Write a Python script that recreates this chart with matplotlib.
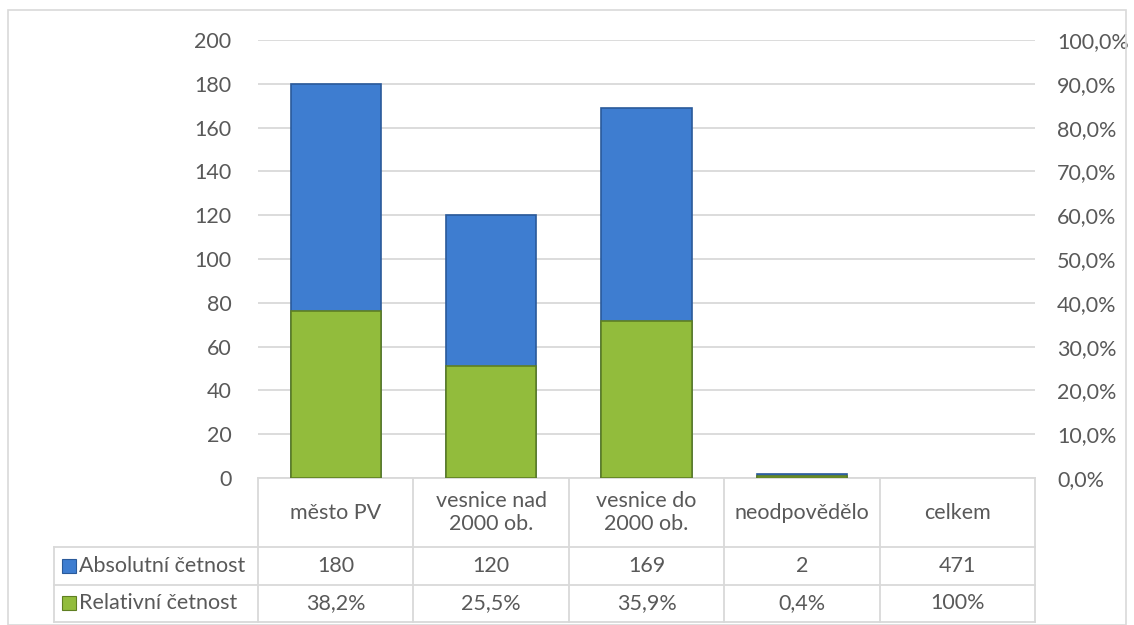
import matplotlib.pyplot as plt
from matplotlib.patches import Rectangle

# Data
categories = ["město PV", "vesnice nad\n2000 ob.", "vesnice do\n2000 ob.", "neodpovědělo", "celkem"]
absolute = [180, 120, 169, 2, 471]
relative = [38.2, 25.5, 35.9, 0.4, 100.0]
relative_labels = ["38,2%", "25,5%", "35,9%", "0,4%", "100%"]
series_names = ["Absolutní četnost", "Relativní četnost"]

# bars are drawn only for the real categories, not the total
n_bars = 4

plt.rcParams["font.family"] = ["Lato", "DejaVu Sans"]
text_col = "#595959"
grid_col = "#D9D9D9"
blue = "#3E7DD0"
blue_edge = "#2A5A9A"
green = "#92BC3C"
green_edge = "#5F7F22"
fs = 15.5

fig = plt.figure(figsize=(11.34, 6.25), dpi=100)

# outer chart frame
fig.patches.append(Rectangle((8 / 1134, 0), 1 - 16 / 1134, 1 - 10 / 625, transform=fig.transFigure,
                             fill=False, edgecolor=grid_col, linewidth=1.2))

ax = fig.add_axes([258 / 1134, (625 - 478) / 625, 777 / 1134, 438 / 625])
ax2 = ax.twinx()

x = list(range(len(categories)))
ax.bar(x[:n_bars], absolute[:n_bars], width=0.58, color=blue, edgecolor=blue_edge, linewidth=1.2, zorder=3)
ax2.bar(x[:n_bars], relative[:n_bars], width=0.58, color=green, edgecolor=green_edge, linewidth=1.2, zorder=3)

ax.set_xlim(-0.5, len(categories) - 0.5)
ax.set_ylim(0, 200)
ax.set_yticks(range(0, 201, 20))
ax2.set_ylim(0, 100)
ax2.set_yticks(range(0, 101, 10))
ax2.set_yticklabels([f"{v},0%" for v in range(0, 101, 10)])

ax.grid(axis="y", color=grid_col, linewidth=1.3, zorder=0)
ax.set_axisbelow(True)
for a in (ax, ax2):
    for s in a.spines.values():
        s.set_visible(False)
    a.tick_params(length=0, labelsize=fs, colors=text_col)
ax.tick_params(axis="y", pad=19)
ax2.tick_params(axis="y", pad=16)
ax.set_xticks([])

# data table under the plot
tr = ax.get_xaxis_transform()
rows = [0, -0.158, -0.244, -0.329]
left = -1.81
lkw = dict(color=grid_col, linewidth=1.3, transform=tr, clip_on=False)
ax.plot([-0.5, len(categories) - 0.5], [rows[0], rows[0]], **lkw)
for r in rows[1:]:
    ax.plot([left, len(categories) - 0.5], [r, r], **lkw)
for i in range(len(categories) + 1):
    ax.plot([i - 0.5, i - 0.5], [rows[0], rows[3]], **lkw)
ax.plot([left, left], [rows[1], rows[3]], **lkw)

for i, c in enumerate(categories):
    ax.text(i, (rows[0] + rows[1]) / 2, c, transform=tr, ha="center", va="center",
            fontsize=fs, color=text_col, linespacing=1.2)
    ax.text(i, (rows[1] + rows[2]) / 2, str(absolute[i]), transform=tr, ha="center", va="center",
            fontsize=fs, color=text_col)
    ax.text(i, (rows[2] + rows[3]) / 2, relative_labels[i], transform=tr, ha="center", va="center",
            fontsize=fs, color=text_col)

for k, (name, fc, ec) in enumerate(zip(series_names, [blue, green], [blue_edge, green_edge])):
    ymid = (rows[1 + k] + rows[2 + k]) / 2
    ax.add_patch(Rectangle((left + 0.05, ymid - 0.016), 0.09, 0.032, transform=tr,
                           facecolor=fc, edgecolor=ec, linewidth=0.8, clip_on=False))
    ax.text(left + 0.16, ymid, name, transform=tr, ha="left", va="center",
            fontsize=fs, color=text_col)

plt.savefig("out.png", dpi=100)
